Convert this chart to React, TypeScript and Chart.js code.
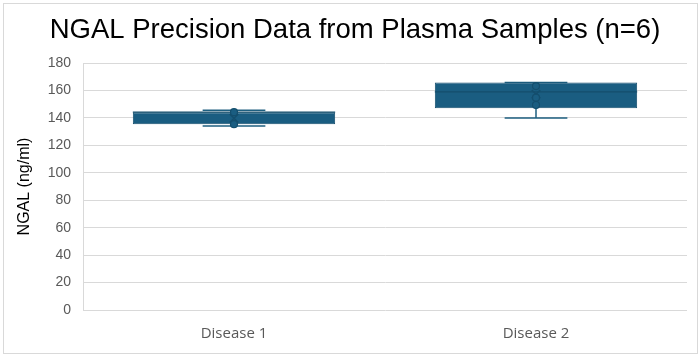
import React, { useEffect, useRef } from 'react';
import { Chart, registerables } from 'chart.js';

Chart.register(...registerables);

const categories = ['Disease 1', 'Disease 2'];
const minValues = [134.1, 139.9];
const q1Values = [135.4, 147.0];
const medianValues = [144.2, 158.9];
const q3Values = [144.2, 165.8];
const maxValues = [145.6, 165.8];
const meanValues = [139.7, 157.3];
const pointsDisease1 = [144.2, 135.4];
const pointsDisease2 = [163.2, 154.7, 149.4];
const yMin = 0;
const yMax = 180;
const yStep = 20;

const titleText = 'NGAL Precision Data from Plasma Samples (n=6)';
const yTitle = 'NGAL (ng/ml)';

const FILL = '#1a5d81';
const EDGE = '#144e6d';
const LINE = '#1e5f80';

const boxPlugin = {
  id: 'boxWhiskers',
  beforeDatasetDraw(chart: any, args: any) {
    if (args.index !== 0) return;
    const { ctx, scales } = chart;
    const y = scales.y;
    const meta = chart.getDatasetMeta(0);
    ctx.save();
    ctx.strokeStyle = LINE;
    ctx.lineWidth = 1.5;
    meta.data.forEach((bar: any, i: number) => {
      const cx = bar.x;
      const capW = bar.width * 0.31;
      const yLo = y.getPixelForValue(minValues[i]);
      const yHi = y.getPixelForValue(maxValues[i]);
      ctx.beginPath();
      ctx.moveTo(cx, yLo);
      ctx.lineTo(cx, yHi);
      ctx.moveTo(cx - capW / 2, yLo);
      ctx.lineTo(cx + capW / 2, yLo);
      ctx.moveTo(cx - capW / 2, yHi);
      ctx.lineTo(cx + capW / 2, yHi);
      ctx.stroke();
    });
    ctx.restore();
  },
  afterDatasetDraw(chart: any, args: any) {
    if (args.index !== 0) return;
    const { ctx, scales } = chart;
    const y = scales.y;
    const meta = chart.getDatasetMeta(0);
    ctx.save();
    ctx.strokeStyle = EDGE;
    ctx.lineWidth = 1.2;
    meta.data.forEach((bar: any, i: number) => {
      const cx = bar.x;
      const w = bar.width;
      const ym = y.getPixelForValue(medianValues[i]);
      ctx.beginPath();
      ctx.moveTo(cx - w / 2, ym);
      ctx.lineTo(cx + w / 2, ym);
      ctx.stroke();
    });
    ctx.restore();
  },
};

export default function App() {
  const ref = useRef<HTMLCanvasElement>(null);

  useEffect(() => {
    if (!ref.current) return;
    const innerPoints = [
      ...pointsDisease1.map((v) => ({ x: categories[0], y: v })),
      ...pointsDisease2.map((v) => ({ x: categories[1], y: v })),
    ];
    const chart = new Chart(ref.current, {
      type: 'bar',
      data: {
        labels: categories,
        datasets: [
          {
            type: 'bar',
            data: categories.map((_, i) => [q1Values[i], q3Values[i]]),
            backgroundColor: FILL,
            borderColor: EDGE,
            borderWidth: 1,
            borderSkipped: false,
            barPercentage: 0.67,
            categoryPercentage: 1,
            grouped: false,
            order: 3,
          } as any,
          {
            type: 'line',
            data: meanValues,
            showLine: false,
            pointStyle: 'crossRot',
            pointRadius: 6,
            pointBorderWidth: 1.5,
            pointBorderColor: EDGE,
            pointBackgroundColor: FILL,
            order: 1,
          } as any,
          {
            type: 'line',
            data: innerPoints,
            showLine: false,
            pointStyle: 'circle',
            pointRadius: 3.5,
            pointBorderWidth: 1.2,
            pointBorderColor: EDGE,
            pointBackgroundColor: FILL,
            order: 0,
          } as any,
        ],
      },
      options: {
        responsive: false,
        animation: false,
        layout: { padding: { left: 23, right: 13, top: 0, bottom: 0 } },
        plugins: {
          legend: { display: false },
          tooltip: { enabled: false },
          title: {
            display: true,
            text: titleText,
            color: '#000000',
            font: { family: 'Liberation Sans', size: 27.5, weight: 'normal' },
            padding: { top: 13.5, bottom: 16.5 },
          },
        },
        scales: {
          x: {
            type: 'category',
            grid: { display: false, drawTicks: false },
            border: { display: false },
            ticks: {
              color: '#595959',
              font: { family: 'Open Sans', size: 15 },
              padding: 14.5,
            },
            afterFit: (s: any) => {
              s.height = 48;
            },
          },
          y: {
            min: yMin,
            max: yMax,
            ticks: {
              stepSize: yStep,
              color: '#595959',
              font: { family: 'Liberation Sans', size: 14 },
              padding: 12,
            },
            grid: { color: '#d9d9d9', lineWidth: 1, drawTicks: false },
            border: { display: true, color: '#d9d9d9', width: 1 },
            title: {
              display: true,
              text: yTitle,
              color: '#000000',
              font: { family: 'Liberation Sans', size: 16 },
              padding: { top: -8, bottom: 0 },
            },
            afterFit: (s: any) => {
              s.width = 60;
            },
          },
        },
      },
      plugins: [boxPlugin],
    });
    return () => chart.destroy();
  }, []);

  return (
    <div style={{ position: 'absolute', left: 0, top: 0, width: 700, height: 358, background: '#ffffff', overflow: 'hidden' }}>
      <canvas ref={ref} width={700} height={358} style={{ position: 'absolute', left: 0, top: 0, width: 700, height: 358 }} />
      <div
        style={{
          position: 'absolute',
          left: 3,
          top: 3,
          width: 695,
          height: 351,
          border: '1px solid #d9d9d9',
          boxSizing: 'border-box',
          pointerEvents: 'none',
        }}
      />
    </div>
  );
}
